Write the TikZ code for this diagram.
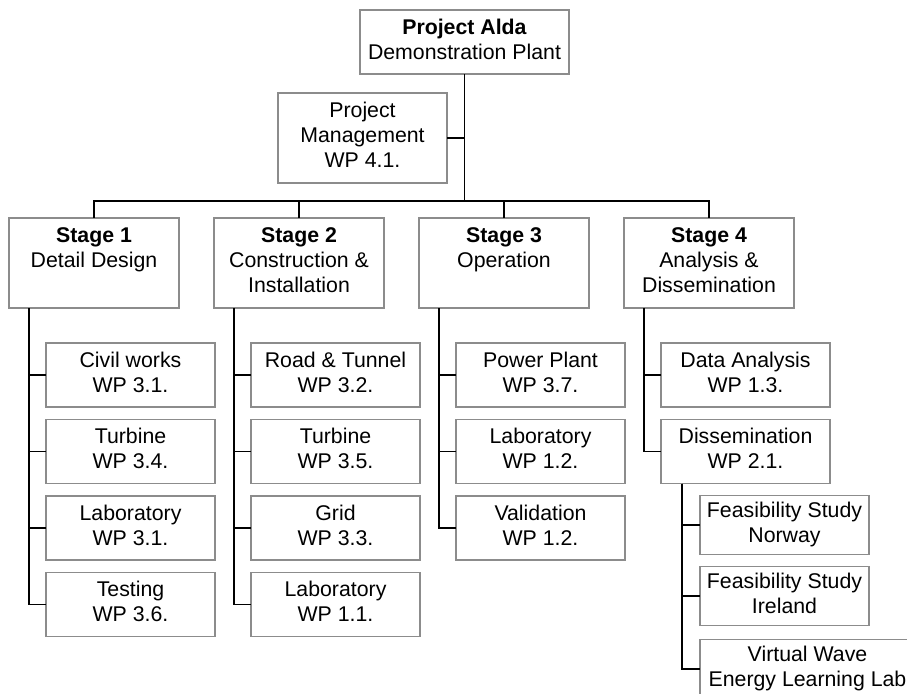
\documentclass[tikz,border=0pt]{standalone}
\usepackage{fontspec}
\setmainfont{Liberation Sans}
\usetikzlibrary{positioning}
\newcommand{\wpstrut}{\rule[-5.5pt]{0pt}{25pt}}
\tikzset{
    every node/.style={font=\fontsize{21.3}{25}\selectfont, align=center}, % Arial-like text, centred lines
    box/.style={draw=black!45, line width=1.5pt, inner sep=0pt, outer sep=0pt, minimum width=169pt,
        execute at begin node=\wpstrut, execute at end node=\wpstrut}, % grey framed box
    wpbox/.style={box, minimum height=64pt}, % work package
    stagebox/.style={box, minimum width=170pt, minimum height=90pt}, % stage heading
    subbox/.style={box, minimum height=59pt}, % dissemination items
    link/.style={draw=black, line width=1.3pt}, % tree connectors
}
\begin{document}
\begin{tikzpicture}[x=1pt, y=-1pt]
    \useasboundingbox (0,0) rectangle (907,693);
    \clip (0,0) rectangle (907,693);
    \node[wpbox, minimum width=209pt] (root) at (464.5,42) {\textbf{Project Alda}\\Demonstration Plant};
    \node[stagebox, minimum width=169pt] (pm) at (362.5,138) {Project\\Management\\WP 4.1.};
    \coordinate (hub) at (464.5,201);
    % stages
    \node[stagebox, anchor=north] (s1) at (94,218) {\textbf{Stage 1}\\Detail Design\\};
    \node[stagebox, right=35pt of s1] (s2) {\textbf{Stage 2}\\Construction \&\\Installation};
    \node[stagebox, right=35pt of s2] (s3) {\textbf{Stage 3}\\Operation\\};
    \node[stagebox, right=35pt of s3] (s4) {\textbf{Stage 4}\\Analysis \&\\Dissemination};
    % stage 1
    \node[wpbox, below right=35pt and 37pt of s1.south west] (c11) {Civil works\\WP 3.1.};
    \node[wpbox, below=12.5pt of c11] (c12) {Turbine\\WP 3.4.};
    \node[wpbox, below=12.5pt of c12] (c13) {Laboratory\\WP 3.1.};
    \node[wpbox, below=12.5pt of c13] (c14) {Testing\\WP 3.6.};
    % stage 2
    \node[wpbox, below right=35pt and 37pt of s2.south west] (c21) {Road \& Tunnel\\WP 3.2.};
    \node[wpbox, below=12.5pt of c21] (c22) {Turbine\\WP 3.5.};
    \node[wpbox, below=12.5pt of c22] (c23) {Grid\\WP 3.3.};
    \node[wpbox, below=12.5pt of c23] (c24) {Laboratory\\WP 1.1.};
    % stage 3
    \node[wpbox, below right=35pt and 37pt of s3.south west] (c31) {Power Plant\\WP 3.7.};
    \node[wpbox, below=12.5pt of c31] (c32) {Laboratory\\WP 1.2.};
    \node[wpbox, below=12.5pt of c32] (c33) {Validation\\WP 1.2.};
    % stage 4
    \node[wpbox, below right=35pt and 37pt of s4.south west] (d1) {Data Analysis\\WP 1.3.};
    \node[wpbox, below=12.5pt of d1] (d2) {Dissemination\\WP 2.1.};
    \node[subbox, below right=12pt and 39pt of d2.south west] (f1) {Feasibility Study\\Norway};
    \node[subbox, below=12pt of f1] (f2) {Feasibility Study\\Ireland};
    \node[subbox, minimum width=215pt, below=14pt of f2.south west, anchor=north west] (f3) {Virtual Wave\\Energy Learning Lab};
    % connectors
    \draw[link] (root.south) -- (hub);
    \draw[link] (pm.east) -- (pm.east -| hub);
    \foreach \s in {s1,s2,s3,s4}
        \draw[link] (hub) -| (\s.north);
    \foreach \c in {c11,c12,c13,c14}
        \draw[link] ([xshift=20pt]s1.south west) |- (\c.west);
    \foreach \c in {c21,c22,c23,c24}
        \draw[link] ([xshift=20pt]s2.south west) |- (\c.west);
    \foreach \c in {c31,c32,c33}
        \draw[link] ([xshift=20pt]s3.south west) |- (\c.west);
    \foreach \c in {d1,d2}
        \draw[link] ([xshift=20pt]s4.south west) |- (\c.west);
    \foreach \c in {f1,f2,f3}
        \draw[link] ([xshift=21pt]d2.south west) |- (\c.west);
\end{tikzpicture}
\end{document}
